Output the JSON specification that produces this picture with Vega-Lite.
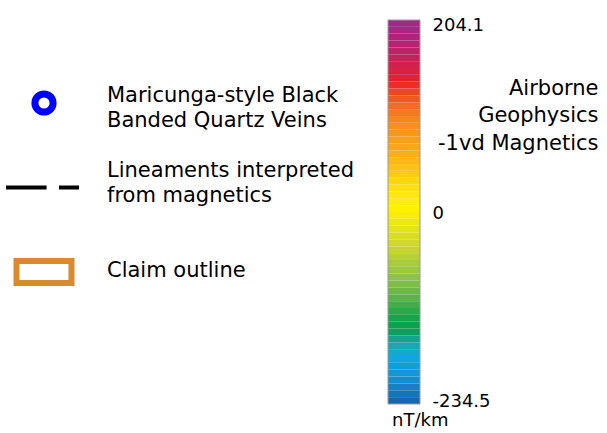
{
  "$schema": "https://vega.github.io/schema/vega-lite/v6.json",
  "width": 607,
  "height": 433,
  "autosize": "none",
  "padding": 0,
  "background": "white",
  "config": {"view": {"stroke": null}},
  "datasets": {
    "items": [
      {"item": "veins"},
      {"item": "lineaments"},
      {"item": "claim"}
    ],
    "lines": [
      {"line": "veins-1", "text": "Maricunga-style Black"},
      {"line": "veins-2", "text": "Banded Quartz Veins"},
      {"line": "lineaments-1", "text": "Lineaments interpreted"},
      {"line": "lineaments-2", "text": "from magnetics"},
      {"line": "claim-1", "text": "Claim outline"}
    ],
    "bands": [
      {"lo": -234.5, "hi": -226.13}, {"lo": -226.13, "hi": -217.75}, {"lo": -217.75, "hi": -209.38}, {"lo": -209.38, "hi": -201},
      {"lo": -201, "hi": -192.63}, {"lo": -192.63, "hi": -184.25}, {"lo": -184.25, "hi": -175.88}, {"lo": -175.88, "hi": -167.5},
      {"lo": -167.5, "hi": -159.13}, {"lo": -159.13, "hi": -150.75}, {"lo": -150.75, "hi": -142.38}, {"lo": -142.38, "hi": -134},
      {"lo": -134, "hi": -125.63}, {"lo": -125.63, "hi": -117.25}, {"lo": -117.25, "hi": -108.88}, {"lo": -108.88, "hi": -100.5},
      {"lo": -100.5, "hi": -92.13}, {"lo": -92.13, "hi": -83.75}, {"lo": -83.75, "hi": -75.38}, {"lo": -75.38, "hi": -67},
      {"lo": -67, "hi": -58.63}, {"lo": -58.63, "hi": -50.25}, {"lo": -50.25, "hi": -41.88}, {"lo": -41.88, "hi": -33.5},
      {"lo": -33.5, "hi": -25.13}, {"lo": -25.13, "hi": -16.75}, {"lo": -16.75, "hi": -8.38}, {"lo": -8.38, "hi": 0},
      {"lo": 0, "hi": 7.29}, {"lo": 7.29, "hi": 14.58}, {"lo": 14.58, "hi": 21.87}, {"lo": 21.87, "hi": 29.16},
      {"lo": 29.16, "hi": 36.45}, {"lo": 36.45, "hi": 43.74}, {"lo": 43.74, "hi": 51.03}, {"lo": 51.03, "hi": 58.31},
      {"lo": 58.31, "hi": 65.6}, {"lo": 65.6, "hi": 72.89}, {"lo": 72.89, "hi": 80.18}, {"lo": 80.18, "hi": 87.47},
      {"lo": 87.47, "hi": 94.76}, {"lo": 94.76, "hi": 102.05}, {"lo": 102.05, "hi": 109.34}, {"lo": 109.34, "hi": 116.63},
      {"lo": 116.63, "hi": 123.92}, {"lo": 123.92, "hi": 131.21}, {"lo": 131.21, "hi": 138.5}, {"lo": 138.5, "hi": 145.79},
      {"lo": 145.79, "hi": 153.08}, {"lo": 153.08, "hi": 160.36}, {"lo": 160.36, "hi": 167.65}, {"lo": 167.65, "hi": 174.94},
      {"lo": 174.94, "hi": 182.23}, {"lo": 182.23, "hi": 189.52}, {"lo": 189.52, "hi": 196.81}, {"lo": 196.81, "hi": 204.1}
    ],
    "bar": [
      {"lo": -234.5, "hi": 204.1, "unit": "nT/km"}
    ]
  },
  "layer": [
    {
      "data": {"name": "items"},
      "mark": {"type": "point", "filled": false, "opacity": 1, "strokeCap": "butt"},
      "encoding": {
        "x": {"datum": 44, "type": "quantitative", "scale": {"domain": [0, 607], "nice": false, "zero": false}, "axis": null},
        "y": {"field": "item", "type": "nominal", "sort": ["veins", "lineaments", "claim"], "scale": {"type": "point", "range": [103, 272], "padding": 0}, "axis": null},
        "shape": {"field": "item", "type": "nominal", "scale": {"domain": ["veins", "lineaments", "claim"], "range": ["circle", "M-1.04,0L0.07,0M0.41,0L0.96,0", "M-1,-0.4L1,-0.4L1,0.4L-1,0.4Z"]}, "legend": null},
        "stroke": {"field": "item", "type": "nominal", "scale": {"domain": ["veins", "lineaments", "claim"], "range": ["#0000ff", "#000000", "#d98a2f"]}, "legend": null},
        "size": {"field": "item", "type": "nominal", "scale": {"type": "ordinal", "domain": ["veins", "lineaments", "claim"], "range": [330, 5329, 3025]}, "legend": null},
        "strokeWidth": {"field": "item", "type": "nominal", "scale": {"type": "ordinal", "domain": ["veins", "lineaments", "claim"], "range": [7, 4, 6]}, "legend": null}
      }
    },
    {
      "data": {"name": "lines"},
      "mark": {"type": "text", "align": "left", "baseline": "middle", "fontSize": 21, "font": "DejaVu Sans", "color": "#000000"},
      "encoding": {
        "x": {"datum": 107, "type": "quantitative", "scale": {"domain": [0, 607], "nice": false, "zero": false}, "axis": null},
        "y": {"field": "line", "type": "nominal", "scale": {"type": "point", "domain": ["veins-1", "veins-2", "gap-1", "lineaments-1", "lineaments-2", "gap-2", "gap-3", "claim-1"], "range": [96, 271], "padding": 0}, "axis": null},
        "text": {"field": "text", "type": "nominal"}
      }
    },
    {
      "layer": [
        {
          "data": {"name": "bands"},
          "mark": {"type": "rect"},
          "encoding": {
            "x": {"datum": 388, "type": "quantitative", "scale": {"domain": [0, 607], "nice": false, "zero": false}, "axis": null},
            "x2": {"datum": 420},
            "y": {"field": "lo", "type": "quantitative", "scale": {"domain": [-234.5, 0, 204.1], "range": [404, 212, 20], "nice": false, "zero": false},
              "axis": {"orient": "right", "offset": -187, "values": [-234.5, 0, 204.1], "labelExpr": "toString(datum.value)", "labelFont": "DejaVu Sans", "labelFontSize": 18, "labelColor": "#000000", "labelPadding": 12, "ticks": false, "domain": false, "grid": false, "labelBound": false, "labelOverlap": false,
                "labelOffset": {"condition": [{"test": "datum.value > 100", "value": 5}, {"test": "datum.value < -100", "value": -3}], "value": 1},
                "title": ["Airborne", "Geophysics", "-1vd Magnetics"], "titleAngle": 0, "titleAlign": "right", "titleBaseline": "middle", "titleX": 178, "titleY": 88, "titleFont": "DejaVu Sans", "titleFontSize": 21, "titleFontWeight": "normal", "titleLineHeight": 27.5, "titleColor": "#000000"}},
            "y2": {"field": "hi"},
            "color": {"field": "lo", "type": "quantitative", "scale": {"type": "linear", "domain": [-234.5, -207.4, -182.7, -165.4, -148.1, -130.8, -108.6, -83.9, -46.9, 0, 18, 55.3, 92.5, 108.4, 124.4, 135, 151, 177.5, 204.1], "range": ["#1b66ab", "#1491d2", "#0fa9e0", "#1aa7ae", "#0c9c52", "#17a84c", "#5db24a", "#8ec24a", "#cad62f", "#fff200", "#fde50f", "#f9b11a", "#f48c1f", "#f06f24", "#eb4726", "#e8222c", "#d3214b", "#b52277", "#9b2a8f"], "interpolate": "rgb"}, "legend": null}
          }
        },
        {
          "data": {"name": "bar"},
          "mark": {"type": "rect", "fillOpacity": 0, "stroke": "#9a9a9a", "strokeWidth": 1},
          "encoding": {
            "x": {"datum": 388, "type": "quantitative"},
            "x2": {"datum": 420},
            "y": {"field": "lo", "type": "quantitative"},
            "y2": {"field": "hi"}
          }
        },
        {
          "data": {"name": "bar"},
          "mark": {"type": "text", "align": "left", "baseline": "middle", "dx": 4, "dy": 17, "fontSize": 18, "font": "DejaVu Sans", "color": "#000000"},
          "encoding": {
            "x": {"datum": 388, "type": "quantitative"},
            "y": {"field": "lo", "type": "quantitative"},
            "text": {"field": "unit", "type": "nominal"}
          }
        }
      ]
    }
  ],
  "resolve": {"scale": {"x": "independent", "y": "independent", "color": "independent", "shape": "independent", "stroke": "independent", "size": "independent", "strokeWidth": "independent"}}
}
